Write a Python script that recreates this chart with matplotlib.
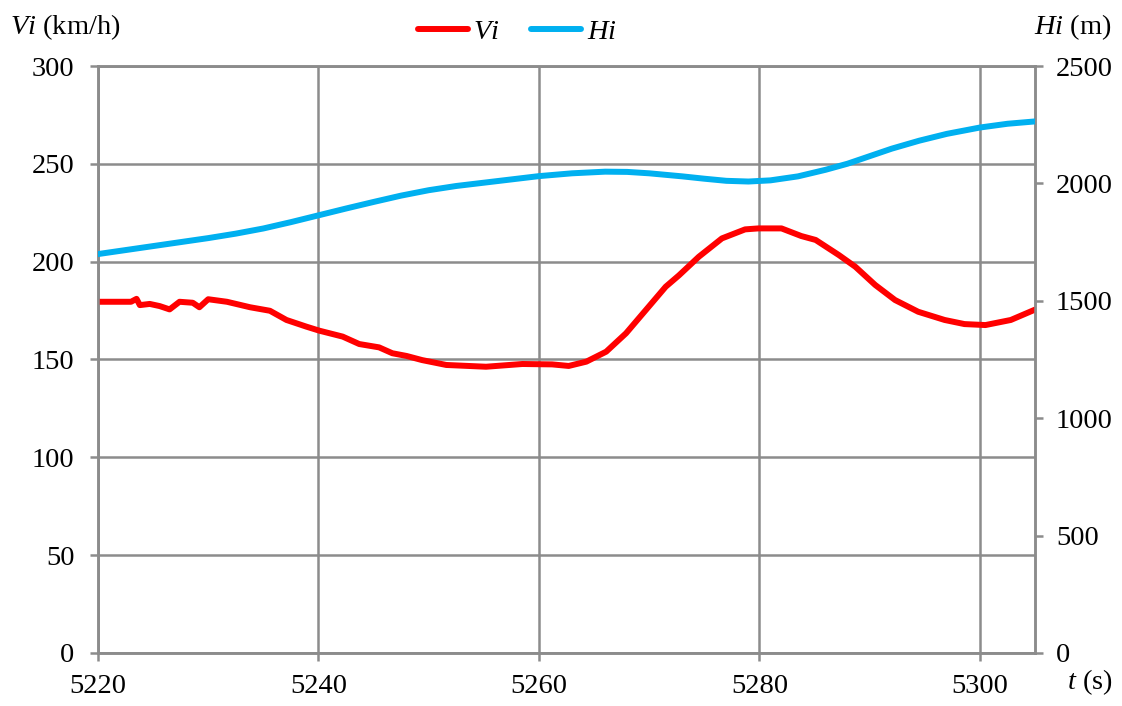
import matplotlib
matplotlib.use("Agg")
import matplotlib.pyplot as plt
from matplotlib.lines import Line2D

plt.rcParams['font.family'] = ['Liberation Serif', 'DejaVu Serif']
plt.rcParams['mathtext.fontset'] = 'custom'
plt.rcParams['mathtext.rm'] = 'Liberation Serif'
plt.rcParams['mathtext.it'] = 'Liberation Serif:italic'

# speed Vi (km/h)
t_v = [5220, 5223.0, 5223.5, 5223.8, 5224.7, 5225.6, 5226.5, 5227.4, 5228.6, 5229.2,
       5230.0, 5231.7, 5233.8, 5235.6, 5237.1, 5238.9, 5240.1, 5242.2, 5243.7, 5245.5,
       5246.7, 5248.0, 5249.4, 5251.6, 5255.2, 5258.5, 5261.2, 5262.7, 5264.3, 5266.1,
       5267.9, 5269.7, 5271.5, 5272.7, 5274.5, 5276.6, 5278.7, 5279.9, 5282.0, 5283.8,
       5285.1, 5287.2, 5288.7, 5290.5, 5292.3, 5294.4, 5296.8, 5298.6, 5300.5, 5302.8,
       5305.0]
v = [179.5, 179.5, 181.0, 177.8, 178.4, 177.3, 175.6, 179.5, 179.0, 176.7,
     180.8, 179.5, 176.7, 174.9, 170.2, 166.8, 164.7, 161.7, 157.9, 156.2,
     153.2, 151.8, 149.7, 147.2, 146.3, 147.7, 147.5, 146.7, 148.9, 154.0,
     163.4, 175.3, 187.2, 193.0, 202.5, 211.9, 216.5, 217.0, 217.0, 213.1,
     211.1, 203.4, 197.4, 188.1, 180.4, 174.4, 170.2, 168.1, 167.6, 170.2,
     175.5]

# altitude Hi (m)
t_h = [5220, 5222.5, 5225, 5227.5, 5230, 5232.5, 5235, 5237.5, 5240, 5242.5,
       5245, 5247.5, 5250, 5252.5, 5255, 5257.5, 5260, 5263, 5266, 5268,
       5270, 5273, 5275, 5277, 5279, 5281, 5283.5, 5286, 5288, 5290,
       5292, 5294.5, 5297, 5300, 5302.5, 5305]
h = [1699, 1716, 1733, 1750, 1767, 1786, 1808, 1835, 1864, 1893,
     1921, 1948, 1971, 1989, 2003, 2017, 2031, 2043, 2050, 2049,
     2043, 2030, 2020, 2011, 2008, 2013, 2030, 2058, 2084, 2116,
     2148, 2182, 2211, 2238, 2254, 2264]

grid_c = '#8c8c8c'
red = '#ff0000'
blue = '#00b0f0'
fs = 20.5

fig = plt.figure(figsize=(11.22, 7.06), dpi=100)
ax = fig.add_axes([0.0873, 0.0751, 0.8352, 0.8314])
ax2 = ax.twinx()

ax.plot(t_v, v, color=red, lw=4.3, solid_capstyle='round', zorder=3)
ax2.plot(t_h, h, color=blue, lw=4.3, solid_capstyle='round', zorder=3)

ax.set_xlim(5220, 5305)
ax.set_ylim(0, 300)
ax2.set_ylim(0, 2500)
ax.set_xticks([5220, 5240, 5260, 5280, 5300])
ax.set_yticks(range(0, 301, 50))
ax2.set_yticks(range(0, 2501, 500))

ax.grid(True, color=grid_c, lw=1.8)
ax.set_axisbelow(True)
for a in (ax, ax2):
    for s in a.spines.values():
        s.set_color(grid_c)
        s.set_linewidth(1.8)
    a.tick_params(colors=grid_c, labelcolor='black', labelsize=fs, length=6, width=1.8)
ax.tick_params(axis='x', pad=9)
ax.tick_params(axis='y', pad=11)
ax2.tick_params(axis='y', pad=9)

fig.text(0.009, 0.962, r'$Vi$ (km/h)', fontsize=fs, ha='left', va='center')
fig.text(0.991, 0.962, r'$Hi$ (m)', fontsize=fs, ha='right', va='center')
fig.text(0.992, 0.034, r'$t$ (s)', fontsize=fs, ha='right', va='center')

handles = [Line2D([], [], color=red, lw=4.3, solid_capstyle='round'),
           Line2D([], [], color=blue, lw=4.3, solid_capstyle='round')]
fig.legend(handles, [r'$Vi$', r'$Hi$'], loc='center', bbox_to_anchor=(0.461, 0.955),
           ncol=2, frameon=False, fontsize=fs, handlelength=1.75, columnspacing=1.1,
           handletextpad=0.2)

fig.savefig('out.png', dpi=100)
